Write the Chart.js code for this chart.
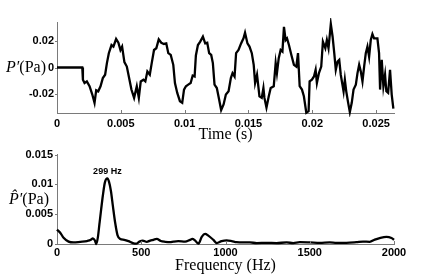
<!DOCTYPE html>
<html>
<head>
<meta charset="utf-8">
<script src="https://cdn.jsdelivr.net/npm/chart.js@4.4.1/dist/chart.umd.min.js"></script>
<style>
  html, body { margin: 0; padding: 0; background: #fff; }
  #wrap { position: relative; width: 436px; height: 275px; }
  canvas { position: absolute; left: 0; }
</style>
</head>
<body>
<div id="wrap">
  <canvas id="time-chart" width="436" height="144" style="top:0"></canvas>
  <canvas id="freq-chart" width="436" height="131" style="top:144px"></canvas>
</div>
<script>
// pressure signal
const timeS = [
  0, 0.00198, 0.00203, 0.00216, 0.00234, 0.00255, 0.00276, 0.00294, 0.00307, 0.00323,
  0.00341, 0.00359, 0.00377, 0.00391, 0.00406, 0.00427, 0.00442, 0.00463, 0.00481, 0.00497,
  0.00510, 0.00528, 0.00547, 0.00565, 0.00583, 0.00604, 0.00625, 0.00641, 0.00656, 0.00677,
  0.00692, 0.00708, 0.00727, 0.00742, 0.00760, 0.00778, 0.00797, 0.00817, 0.00838, 0.00856,
  0.00872, 0.00891, 0.00911, 0.00924, 0.00942, 0.00963, 0.00981, 0.00995, 0.01010, 0.01028,
  0.01047, 0.01063, 0.01078, 0.01088, 0.01104, 0.01122, 0.01143, 0.01161, 0.01177, 0.01192,
  0.01208, 0.01221, 0.01234, 0.01252, 0.01270, 0.01286, 0.01305, 0.01323, 0.01344, 0.01362,
  0.01375, 0.01391, 0.01403, 0.01422, 0.01442, 0.01461, 0.01473, 0.01492, 0.01508, 0.01526,
  0.01541, 0.01552, 0.01567, 0.01586, 0.01604, 0.01617, 0.01625, 0.01641, 0.01659, 0.01674,
  0.01698, 0.01713, 0.01723, 0.01737, 0.01752, 0.01766, 0.01778, 0.01791, 0.01802, 0.01817,
  0.01836, 0.01856, 0.01875, 0.01888, 0.01901, 0.01919, 0.01934, 0.01953, 0.01971, 0.01979,
  0.01997, 0.02013, 0.02026, 0.02036, 0.02052, 0.02070, 0.02083, 0.02102, 0.02114, 0.02127,
  0.02145, 0.02159, 0.02172, 0.02184, 0.02198, 0.02211, 0.02223, 0.02245, 0.02255, 0.02266,
  0.02281, 0.02294, 0.02309, 0.02323, 0.02341, 0.02354, 0.02367, 0.02380, 0.02393, 0.02406,
  0.02419, 0.02432, 0.02445, 0.02458, 0.02471, 0.02484, 0.02510, 0.02523, 0.02531, 0.02544,
  0.02557, 0.02570, 0.02580, 0.02594, 0.02609, 0.02622, 0.02635
];
const pressurePa = [
  0, 0, -0.0091, -0.0116, -0.0104, -0.0140, -0.0200, -0.0264, -0.0170, -0.0178,
  -0.0140, -0.0079, -0.0054, 0.0033, 0.0107, 0.0168, 0.0156, 0.0213, 0.0185, 0.0131,
  0.0156, 0.0040, 0.0007, -0.0079, -0.0165, -0.0227, -0.0140, -0.0227, -0.0104, -0.0091,
  -0.0104, -0.0030, -0.0054, 0.0033, 0.0131, 0.0144, 0.0210, 0.0185, 0.0176, 0.0180,
  0.0107, 0.0094, 0.0020, -0.0116, -0.0190, -0.0252, -0.0264, -0.0165, -0.0140, -0.0128,
  -0.0116, -0.0060, -0.0067, 0.0090, 0.0168, 0.0193, 0.0230, 0.0180, 0.0185, 0.0107,
  0.0094, 0.0033, -0.0128, -0.0153, -0.0239, -0.0318, -0.0276, -0.0202, -0.0178, -0.0079,
  -0.0042, -0.0067, 0.0107, 0.0131, 0.0180, 0.0218, 0.0260, 0.0180, 0.0156, 0.0107,
  0.0020, -0.0116, -0.0054, -0.0215, -0.0227, -0.0153, -0.0227, -0.0300, -0.0215, -0.0153,
  -0.0140, 0.0033, -0.0042, 0.0070, 0.0131, 0.0119, 0.0304, 0.0205, 0.0218, 0.0168,
  0.0094, 0.0020, 0.0007, 0.0107, -0.0140, -0.0165, -0.0215, -0.0338, -0.0326, -0.0104,
  -0.0091, -0.0067, -0.0017, -0.0116, -0.0042, 0.0007, 0.0193, 0.0144, 0.0205, 0.0144,
  0.0325, 0.0230, 0.0107, -0.0017, 0.0044, 0.0057, -0.0054, -0.0178, -0.0091, -0.0178,
  -0.0264, -0.0333, -0.0264, -0.0165, -0.0128, -0.0042, 0.0020, -0.0030, -0.0104, 0.0007,
  0.0107, 0.0156, 0.0081, 0.0205, 0.0250, 0.0218, 0.0218, 0.0107, -0.0165, 0.0057,
  -0.0140, -0.0054, -0.0178, -0.0190, -0.0017, -0.0202, -0.0308
];

// spectrum
const freqHz = [
  0, 20, 39, 69, 98, 138, 178, 201, 213, 225,
  233, 243, 252, 262, 272, 284, 299, 308, 320, 332,
  345, 359, 375, 399, 424, 450, 470, 489, 509, 533,
  553, 572, 592, 616, 642, 671, 691, 720, 760, 790,
  803, 819, 839, 859, 879, 898, 928, 948, 977, 1007,
  1037, 1066, 1105, 1145, 1185, 1244, 1303, 1363, 1402, 1441,
  1501, 1560, 1619, 1659, 1718, 1777, 1816, 1856, 1886, 1915,
  1955, 1985, 2000
];
const amplitudePa = [
  0.0024, 0.00185, 0.00105, 0.0004, 0.00026, 0.00037, 0.0005, 0.0007, 0.00096, 0.00058,
  0, 0.0012, 0.0034, 0.0058, 0.0081, 0.0103, 0.0110, 0.0105, 0.0089, 0.0063,
  0.0036, 0.0015, 0.00085, 0.0007, 0.00048, 0.00016, 0.00005, 0.0004, 0.00058, 0.00037,
  0.00058, 0.0007, 0.00085, 0.0005, 0.00037, 0.0003, 0.0004, 0.00048, 0.0004, 0.0007,
  0.00085, 0.0006, 0.00005, 0.0012, 0.0017, 0.0014, 0.0007, 0.00016, 0.00048, 0.0006,
  0.00048, 0.0003, 0.00026, 0.00026, 0.00016, 0.0002, 0.00016, 0.00026, 0.00016, 0.0003,
  0.00026, 0.0002, 0.00026, 0.0002, 0.0002, 0.0003, 0.0004, 0.00037, 0.00074, 0.001,
  0.0012, 0.001, 0.0007
];

const timeTicks = [0, 0.005, 0.01, 0.015, 0.02, 0.025];
const pressureTicks = [-0.02, 0, 0.02];
const freqTicks = [0, 500, 1000, 1500, 2000];
const amplitudeTicks = [0, 0.005, 0.01, 0.015];

const peakLabel = '299 Hz';
const peakFreq = 299;
const peakLabelY = 0.0121;

const AXIS_GREY = '#7a7a7a';
const tickFont = { family: 'Liberation Sans', size: 11, weight: 'bold' };
const titleFont = { family: 'Liberation Serif', size: 16 };

// short tick marks, horizontal y label, peak note
const decorPlugin = {
  id: 'decor',
  afterDraw(chart, args, opts) {
    const ctx = chart.ctx;
    const { left, top, bottom } = chart.chartArea;
    const xs = chart.scales.x, ys = chart.scales.y;
    ctx.save();
    ctx.strokeStyle = AXIS_GREY;
    ctx.lineWidth = 1;
    ctx.beginPath();
    xs.ticks.forEach(t => {
      const px = Math.round(xs.getPixelForValue(t.value)) + 0.5;
      ctx.moveTo(px, bottom);
      ctx.lineTo(px, bottom - 3);
    });
    ys.ticks.forEach(t => {
      const py = Math.round(ys.getPixelForValue(t.value)) + 0.5;
      ctx.moveTo(left, py);
      ctx.lineTo(left - 2, py);
    });
    ctx.stroke();

    // y label like P'(Pa), italic symbol then upright unit
    const midY = (top + bottom) / 2;
    ctx.fillStyle = '#000';
    ctx.textBaseline = 'middle';
    ctx.textAlign = 'left';
    ctx.font = '16px "Liberation Serif"';
    const unitW = ctx.measureText('(Pa)').width;
    ctx.font = 'italic 16px "Liberation Serif"';
    const symW = ctx.measureText(opts.symbol).width;
    const x0 = left - opts.gap - unitW - symW;
    ctx.fillText(opts.symbol, x0, midY);
    ctx.font = '16px "Liberation Serif"';
    ctx.fillText('(Pa)', x0 + symW, midY);

    if (opts.note) {
      ctx.font = 'bold 9px "Liberation Sans"';
      ctx.textAlign = 'center';
      ctx.fillText(opts.note, xs.getPixelForValue(opts.noteX), ys.getPixelForValue(opts.noteY));
    }
    ctx.restore();
  }
};

function makeOptions(cfg) {
  return {
    responsive: false,
    animation: false,
    events: [],
    layout: { padding: { left: 0, right: 42, top: cfg.padTop, bottom: 0 } },
    plugins: {
      legend: { display: false },
      tooltip: { enabled: false },
      decor: cfg.decor
    },
    scales: {
      x: {
        type: 'linear',
        min: cfg.xMin,
        max: cfg.xMax,
        afterBuildTicks: s => { s.ticks = cfg.xTicks.map(v => ({ value: v })); },
        afterFit: s => { s.height = cfg.xHeight; },
        grid: { display: false, drawTicks: false },
        border: { display: true, color: AXIS_GREY, width: 1 },
        ticks: {
          font: tickFont, color: '#000', padding: cfg.xPad,
          maxRotation: 0, autoSkip: false,
          callback: v => String(v)
        },
        title: { display: true, text: cfg.xTitle, font: titleFont, color: '#000', padding: { top: 0, bottom: 0 } }
      },
      y: {
        min: cfg.yMin,
        max: cfg.yMax,
        afterBuildTicks: s => { s.ticks = cfg.yTicks.map(v => ({ value: v })); },
        afterFit: s => { s.width = 57; },
        grid: { display: false, drawTicks: false },
        border: { display: true, color: AXIS_GREY, width: 1 },
        ticks: {
          font: tickFont, color: '#000', padding: cfg.yPad,
          callback: v => String(v)
        }
      }
    }
  };
}

new Chart(document.getElementById('time-chart'), {
  type: 'line',
  data: {
    datasets: [{
      data: timeS.map((t, i) => ({ x: t, y: pressurePa[i] })),
      borderColor: '#000',
      borderWidth: 2.3,
      pointRadius: 0,
      tension: 0,
      clip: 4
    }]
  },
  options: makeOptions({
    padTop: 22, xHeight: 31, xPad: 4, yPad: 3,
    xMin: 0, xMax: 0.0264, yMin: -0.034, yMax: 0.034,
    xTicks: timeTicks, yTicks: pressureTicks,
    xTitle: 'Time (s)',
    decor: { symbol: 'P\u2032', gap: 11 }
  }),
  plugins: [decorPlugin]
});

new Chart(document.getElementById('freq-chart'), {
  type: 'line',
  data: {
    datasets: [{
      data: freqHz.map((f, i) => ({ x: f, y: amplitudePa[i] })),
      borderColor: '#000',
      borderWidth: 2.3,
      pointRadius: 0,
      cubicInterpolationMode: 'monotone',
      clip: 4
    }]
  },
  options: makeOptions({
    padTop: 7, xHeight: 31, xPad: 2.5, yPad: 4,
    xMin: 0, xMax: 2000, yMin: 0, yMax: 0.015,
    xTicks: freqTicks, yTicks: amplitudeTicks,
    xTitle: 'Frequency (Hz)',
    decor: { symbol: 'P\u0302\u2032', gap: 8, note: peakLabel, noteX: peakFreq, noteY: peakLabelY }
  }),
  plugins: [decorPlugin]
});
</script>
</body>
</html>
